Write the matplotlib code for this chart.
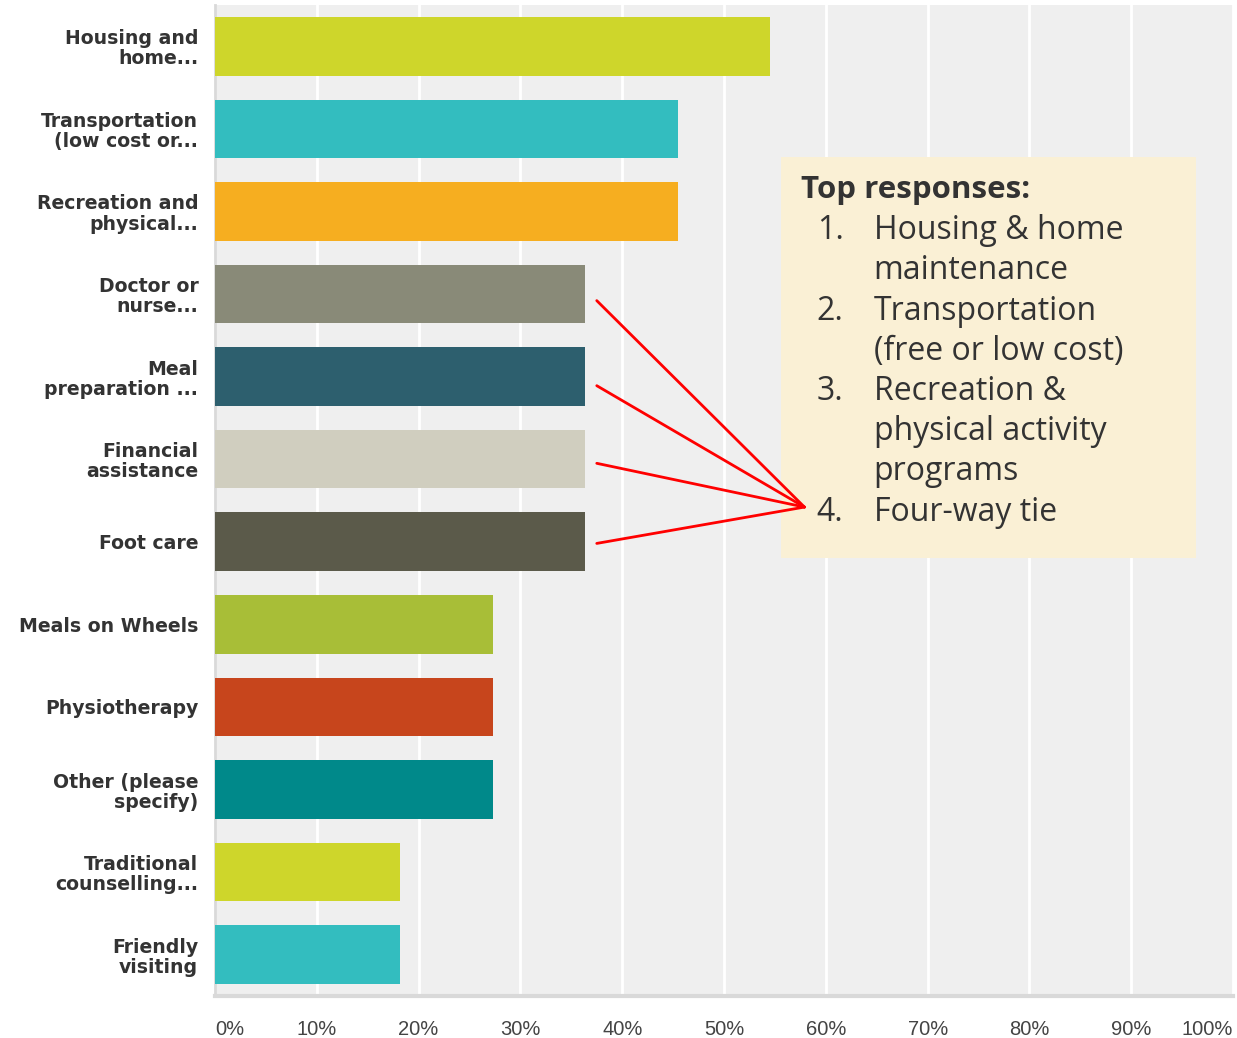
import matplotlib.pyplot as plt
from matplotlib.patches import Rectangle

# survey answers (11 respondents)
labels = ["Housing and\nhome...", "Transportation\n(low cost or...", "Recreation and\nphysical...",
          "Doctor or\nnurse...", "Meal\npreparation ...", "Financial\nassistance", "Foot care",
          "Meals on Wheels", "Physiotherapy", "Other (please\nspecify)", "Traditional\ncounselling...",
          "Friendly\nvisiting"]
values = [54.55, 45.45, 45.45, 36.36, 36.36, 36.36, 36.36, 27.27, 27.27, 27.27, 18.18, 18.18]
colors = ["#CED62B", "#33BDBF", "#F6AE20", "#898A78", "#2D5F6E", "#D0CEBF", "#5B5A4A",
          "#A8BE37", "#C7451C", "#00898A", "#CED62B", "#33BDBF"]
xticks = [0, 10, 20, 30, 40, 50, 60, 70, 80, 90, 100]
xtick_labels = ["0%", "10%", "20%", "30%", "40%", "50%", "60%", "70%", "80%", "90%", "100%"]

box_items = [["Housing & home", "maintenance"], ["Transportation", "(free or low cost)"],
             ["Recreation &", "physical activity", "programs"], ["Four-way tie"]]
tie_starts = [3.08, 4.11, 5.05, 6.02]

fig = plt.figure(figsize=(12.37, 10.38), dpi=100)
ax = fig.add_axes([0.1738, 0.0405, 0.8230, 0.9547])
ax.set_facecolor("#efefef")

ypos = list(range(len(labels)))
ax.barh(ypos, values, height=0.71, color=colors, zorder=3)

ax.set_xlim(0, 100)
ax.set_ylim(len(labels) - 0.5, -0.5)
ax.set_xticks(xticks)
ax.set_xticklabels(xtick_labels, family="Liberation Sans", fontsize=14.5, color="#444444")
for t, lab in zip(ax.get_xticklabels(), xtick_labels):
    if lab == "0%":
        t.set_ha("left")
    elif lab == "100%":
        t.set_ha("right")
ax.set_yticks(ypos)
ax.set_yticklabels(labels, family="DejaVu Sans", fontweight="bold", fontsize=13.6,
                   color="#333333", linespacing=1.08)
ax.tick_params(axis="both", length=0)
ax.tick_params(axis="x", pad=17)
ax.tick_params(axis="y", pad=12)
ax.grid(axis="x", color="white", linewidth=2, zorder=1)

for s in ["top", "right"]:
    ax.spines[s].set_visible(False)
ax.spines["left"].set_color("#d9d9d9")
ax.spines["left"].set_linewidth(2)
ax.spines["bottom"].set_color("#d9d9d9")
ax.spines["bottom"].set_linewidth(3)

# callout box
ax.add_patch(Rectangle((55.6, 1.34), 40.8, 4.86, facecolor="#FAF0D5", edgecolor="none", zorder=4))
step = 0.487
y_title = 1.745
ax.text(57.6, y_title, "Top responses:", family="Open Sans", fontweight="bold", fontsize=22.5,
        color="#333333", va="center", zorder=5)
y = y_title + step
for i, item in enumerate(box_items):
    ax.text(59.1, y, f"{i + 1}.", family="Open Sans", fontsize=23, color="#333333",
            va="center", zorder=5)
    for line in item:
        ax.text(64.7, y, line, family="Open Sans", fontsize=23, color="#333333",
                va="center", zorder=5)
        y += step

# red lines to the tie
for y0 in tie_starts:
    ax.plot([37.5, 57.9], [y0, 5.58], color="red", linewidth=2, zorder=6,
            solid_capstyle="round")

fig.savefig("out.png", dpi=100, facecolor="white")
